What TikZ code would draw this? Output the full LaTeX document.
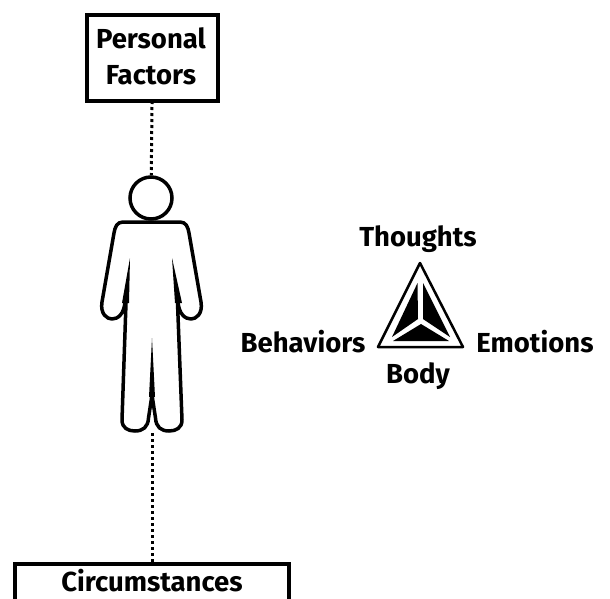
\documentclass[tikz,border=0pt]{standalone}
\usepackage{fontspec}
\setmainfont{Fira Sans}
\usepackage{tikz}
\usetikzlibrary{positioning}

\begin{document}
\begin{tikzpicture}[
  x=1pt, y=-1pt,
  font=\fontsize{27.5}{36}\selectfont\bfseries,
  box/.style={draw, line width=4pt, align=center, inner sep=0pt, outer sep=0pt},
  headshape/.style={draw, circle, line width=3.5pt, minimum size=42pt, inner sep=0pt, outer sep=1.75pt},
  word/.style={inner sep=0pt, align=center},
  link/.style={line width=3pt, dash pattern=on 3pt off 3pt},
  figure/.style={line width=3.5pt, line join=round},
  wedge/.style={fill=black}
]
  \useasboundingbox (0,0) rectangle (610,598);
  \clip (0,0) rectangle (610,598);

  \node[box, minimum width=131pt, minimum height=86pt] (personal) at (152.5,58) {};
  \node[word] (personaltext) at (151,56) {Personal\\Factors};
  \node[headshape] (headcircle) at (151,198) {};
  \coordinate (feet) at (152,433);
  \node[box, anchor=north, minimum width=274pt, inner ysep=5pt, text depth=24pt] (circum) at (152,564) {Circumstances};

  % body outline, left side then right side
  \draw[figure] (123,222) -- (180,222)
    .. controls (186,222) and (188,227) .. (189,233)
    -- (201,302) .. controls (203,314) and (196,319) .. (191,319)
    .. controls (185,319) and (179,314) .. (178,302)
    -- (177.5,303) -- (182,420)
    .. controls (182,428) and (176,431) .. (169,431)
    .. controls (161,431) and (156,427) .. (155.5,418)
    -- (152,395) -- (148.5,418)
    .. controls (148,427) and (143,431) .. (135,431)
    .. controls (128,431) and (122,428) .. (122,420)
    -- (126,303) -- (125,302)
    .. controls (124,314) and (118,319) .. (112,319)
    .. controls (107,319) and (100,314) .. (102,302)
    -- (114,233) .. controls (115,227) and (117,222) .. (123,222) -- cycle;
  \fill[wedge] (130,258) -- (122,303) -- (129,303) -- cycle;
  \fill[wedge] (172,258) -- (175,303) -- (182,303) -- cycle;
  \fill[wedge] (152,338) -- (149,397) -- (155,397) -- cycle;

  \draw[link] (personal) -- (headcircle);
  \draw[link] (feet) -- (circum);

  % triangle
  \draw[line width=2.5pt, line join=round] (420,263) -- (463,347) -- (378,347) -- cycle;
  \fill[wedge] (417.5,283) -- (418,319) -- (392,337) -- cycle;
  \fill[wedge] (423,283) -- (423,319) -- (450,337) -- cycle;
  \fill[wedge] (393,341) -- (421,324) -- (449,341) -- cycle;

  \node[word] (thoughts) at (418,239) {Thoughts};
  \node[word] (behaviors) at (303,342) {Behaviors};
  \node[word] (emotions) at (535,342) {Emotions};
  \node[word] (bodytext) at (418,376) {Body};
\end{tikzpicture}
\end{document}
